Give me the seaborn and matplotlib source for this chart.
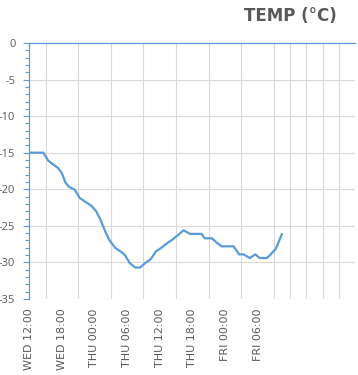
import matplotlib
matplotlib.use("Agg")
import matplotlib.pyplot as plt
import seaborn as sns
import pandas as pd

# Data (hours since WED 12:00, temperature °C)
hours = [0, 2.6, 3.5, 5.3, 6.0, 6.6, 7.2, 8.4, 9.3, 10.5, 11.5, 12.3, 13.0, 14.0,
         14.7, 15.8, 17.0, 17.6, 18.5, 19.5, 20.4, 21.3, 22.3, 23.3, 24.3, 25.3,
         26.3, 27.3, 28.4, 29.6, 31.7, 32.3, 33.6, 34.5, 35.4, 37.6, 38.6, 39.4,
         40.6, 41.6, 42.4, 43.7, 44.3, 45.4, 46.5]
temps = [-15.0, -15.0, -16.1, -17.1, -17.8, -19.0, -19.6, -20.1, -21.2, -21.8,
         -22.3, -23.0, -24.0, -25.8, -26.9, -28.0, -28.6, -29.0, -30.1, -30.7,
         -30.7, -30.1, -29.6, -28.5, -28.0, -27.4, -26.9, -26.3, -25.6, -26.1,
         -26.1, -26.7, -26.7, -27.3, -27.8, -27.8, -28.9, -28.9, -29.4, -28.9,
         -29.4, -29.4, -29.0, -28.1, -26.1]
tick_hours = [0, 6, 12, 18, 24, 30, 36, 42]
tick_labels = ["WED 12:00", "WED 18:00", "THU 00:00", "THU 06:00",
               "THU 12:00", "THU 18:00", "FRI 00:00", "FRI 06:00"]
y_ticks = [0, -5, -10, -15, -20, -25, -30, -35]

df = pd.DataFrame({"hours": hours, "temp": temps})

sns.set_style("white")
plt.rcParams["font.family"] = ["Open Sans", "DejaVu Sans"]

BLUE = "#5B9BD5"
GRID = "#D9D9D9"
TXT = "#595959"

fig = plt.figure(figsize=(3.58, 3.75), dpi=100)
ax = fig.add_axes([0.0818, 0.2027, 0.9107, 0.6826])

sns.lineplot(data=df, x="hours", y="temp", ax=ax, color=BLUE, linewidth=1.6)

ax.set_xlim(0, 60)
ax.set_ylim(-35, 0)
ax.set_xlabel("")
ax.set_ylabel("")

# x ticks / gridlines
ax.set_xticks(tick_hours)
ax.set_xticklabels(tick_labels, rotation=90, fontsize=8, color=TXT,
                   family="DejaVu Sans")
ax.set_xticks(list(range(0, 61, 3)), minor=True)
ax.tick_params(axis="x", which="both", length=0, pad=7)
ax.grid(True, axis="x", which="minor", color=GRID, linewidth=0.8)

# y ticks
ax.set_yticks(y_ticks)
ax.set_yticklabels([str(v) for v in y_ticks], fontsize=8, color=TXT)
ax.set_yticks(list(range(-35, 1, 1)), minor=True)
ax.tick_params(axis="y", which="major", length=4, color=BLUE, width=0.8, pad=6,
               left=True)
ax.tick_params(axis="y", which="minor", length=3, color=BLUE, width=0.8, left=True)
ax.grid(True, axis="y", which="major", color=GRID, linewidth=0.8)
ax.set_axisbelow(True)

for s in ["right", "bottom"]:
    ax.spines[s].set_visible(False)
for s in ["left", "top"]:
    ax.spines[s].set_visible(True)
    ax.spines[s].set_color(BLUE)
    ax.spines[s].set_linewidth(0.9)

fig.text(0.941, 0.958, "TEMP (°C)", ha="right", va="center", fontsize=12,
         fontweight="bold", color=TXT, family="DejaVu Sans")

fig.savefig("out.png", dpi=100)
